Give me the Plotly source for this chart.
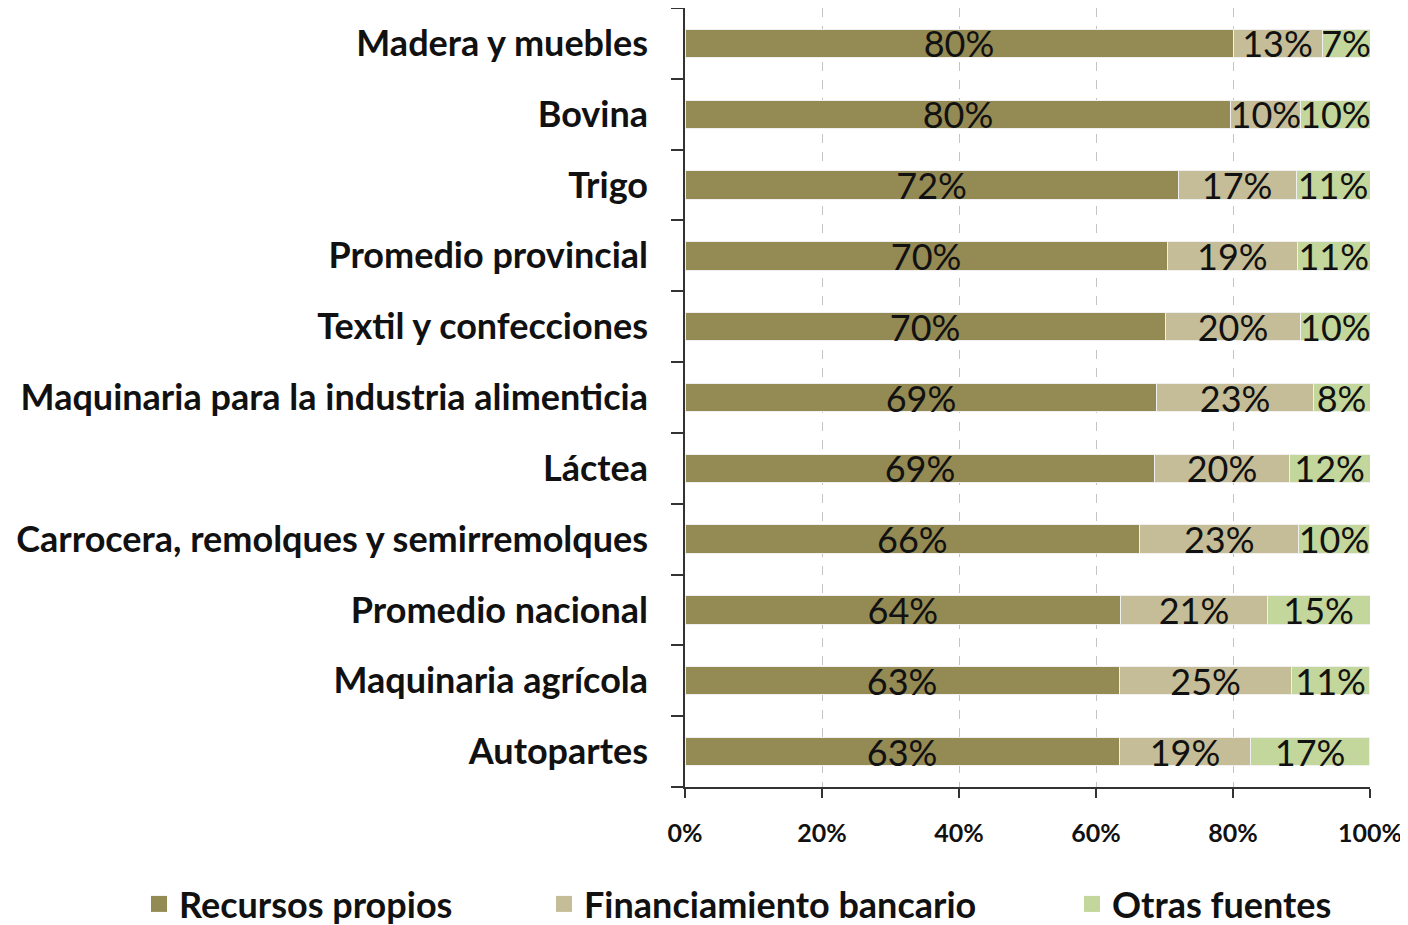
import plotly.graph_objects as go

categories = [
    "Madera y muebles",
    "Bovina",
    "Trigo",
    "Promedio provincial",
    "Textil y confecciones",
    "Maquinaria para la industria alimenticia",
    "Láctea",
    "Carrocera, remolques y semirremolques",
    "Promedio nacional",
    "Maquinaria agrícola",
    "Autopartes",
]
recursos_propios = [80.0, 79.7, 72.0, 70.4, 70.1, 68.9, 68.6, 66.4, 63.6, 63.4, 63.4]
financiamiento_bancario = [13.0, 10.2, 17.2, 19.0, 19.8, 22.8, 19.6, 23.2, 21.4, 25.2, 19.2]
otras_fuentes = [7.0, 10.1, 10.8, 10.6, 10.1, 8.3, 11.8, 10.3, 15.0, 11.3, 17.3]
x_ticks = [0, 20, 40, 60, 80, 100]
x_tick_labels = ["0%", "20%", "40%", "60%", "80%", "100%"]

series = [
    ("Recursos propios", recursos_propios, "#948A54", "legend", -0.7971),
    ("Financiamiento bancario", financiamiento_bancario, "#C4BD97", "legend2", -0.2058),
    ("Otras fuentes", otras_fuentes, "#C3D69B", "legend3", 0.5650),
]

FONT = "Lato"
fig = go.Figure()
for name, vals, color, leg, lx in series:
    fig.add_trace(go.Bar(
        y=categories, x=vals, name=name, orientation="h",
        marker=dict(color=color, line=dict(color="#f0f0f0", width=1)),
        width=0.4,
        text=[f"{round(v):d}%" for v in vals],
        textposition="inside", insidetextanchor="middle",
        textangle=0, constraintext="none",
        textfont=dict(family=FONT, size=36, color="#111111"),
        showlegend=False,
        cliponaxis=False,
    ))

# legend entries (square swatches)
for name, vals, color, leg, lx in series:
    fig.add_trace(go.Scatter(
        x=[None], y=[None], mode="markers", name=name,
        marker=dict(symbol="square", size=20, color=color),
        legend=leg, showlegend=True,
    ))

legend_common = dict(orientation="h", yref="paper", xref="paper",
                     yanchor="middle", xanchor="left",
                     font=dict(family=FONT, size=36, color="#111111", weight="bold"),
                     bgcolor="rgba(0,0,0,0)", itemsizing="trace",
                     y=-0.1502)
legends = {}
for name, vals, color, leg, lx in series:
    legends[leg] = dict(x=lx, **legend_common)

# page body has an 8px margin, so the figure is 8px smaller than the window
fig.update_layout(
    barmode="stack",
    width=1400, height=917,
    margin=dict(l=677, r=38, t=0, b=138, autoexpand=False),
    paper_bgcolor="white", plot_bgcolor="white",
    font=dict(family=FONT, color="#111111"),
    **legends,
    xaxis=dict(
        range=[0, 100], tickvals=x_ticks, ticktext=x_tick_labels,
        showgrid=True, gridcolor="#c4c4c4", griddash="dash", gridwidth=1,
        zeroline=False, showline=True, linecolor="#333333", linewidth=1.5,
        ticks="outside", ticklen=9, tickcolor="#333333", tickwidth=1.5,
        tickfont=dict(family=FONT, size=25, color="#111111", weight="bold"),
        ticklabelstandoff=14,
    ),
    yaxis=dict(
        categoryorder="array", categoryarray=categories[::-1],
        showline=True, linecolor="#333333", linewidth=1.5,
        ticks="outside", ticklen=12, tickcolor="#333333", tickwidth=1.5,
        tickson="boundaries",
        tickfont=dict(family=FONT, size=36, color="#111111", weight="bold"),
        ticklabelstandoff=28,
        showgrid=False, zeroline=False,
    ),
)

fig.write_html("out.html")
